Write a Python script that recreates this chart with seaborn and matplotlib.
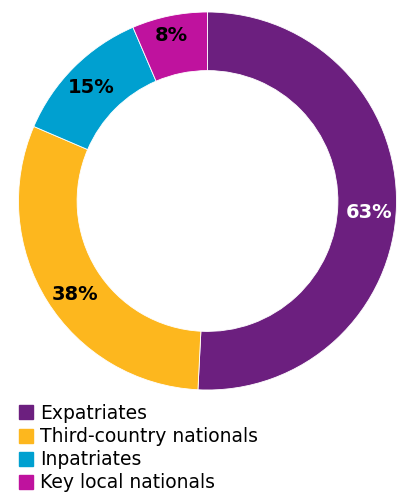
import matplotlib
matplotlib.use("Agg")
import numpy as np
import matplotlib.pyplot as plt
from matplotlib.lines import Line2D
import seaborn as sns

categories = ["Expatriates", "Third-country nationals", "Inpatriates", "Key local nationals"]
values = [63, 38, 15, 8]
colors = ["#6C1F7F", "#FDB71E", "#00A0D0", "#BF129E"]
label_colors = ["white", "black", "black", "black"]
label_angle_nudge = [-2.7, 3.4, 0.8, 0.7]
label_radius = [0.857, 0.857, 0.86, 0.894]

sns.set_theme(style="white")
plt.rcParams["font.family"] = ["DejaVu Sans"]
plt.rcParams["text.color"] = "black"

W, H = 401, 495
fig = plt.figure(figsize=(W / 100, H / 100), dpi=100)
cx, cy, R = 207.5, 201, 189
ax = fig.add_axes([(cx - R) / W, (H - cy - R) / H, 2 * R / W, 2 * R / H])

total = sum(values)
wedges, texts, autotexts = ax.pie(
    values,
    colors=colors,
    startangle=90,
    counterclock=False,
    radius=1,
    wedgeprops=dict(width=0.31, edgecolor="white", linewidth=0.6),
    autopct=lambda p: f"{round(p * total / 100):.0f}%",
    pctdistance=0.86,
    textprops=dict(fontsize=14, fontweight="bold"),
)
for w, t, c, dn, r in zip(wedges, autotexts, label_colors, label_angle_nudge, label_radius):
    t.set_color(c)
    ang = np.deg2rad((w.theta1 + w.theta2) / 2 + dn)
    t.set_position((r * np.cos(ang), r * np.sin(ang)))
ax.set_xlim(-1, 1)
ax.set_ylim(-1, 1)
ax.set_aspect("equal")
ax.axis("off")

handles = [Line2D([0], [0], marker="s", linestyle="none", markersize=9.4,
                  markerfacecolor=c, markeredgecolor=c) for c in colors]
fig.legend(handles, categories, loc="upper left",
           bbox_to_anchor=(18 / W, 1 - 404 / H), frameon=False,
           fontsize=13.5, handlelength=0.8, handletextpad=0.4,
           labelspacing=0.22, borderpad=0, borderaxespad=0)

fig.savefig("out.png", dpi=100)
